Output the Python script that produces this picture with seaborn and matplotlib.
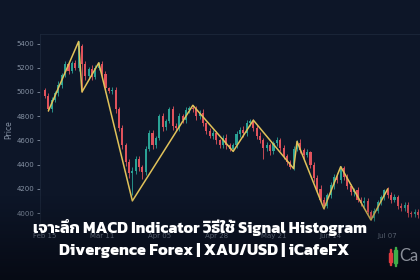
import matplotlib
matplotlib.use("Agg")
import matplotlib.pyplot as plt
import numpy as np
import pandas as pd
import seaborn as sns

# ---------------- data ----------------
first_open = 5020
closes = [
    4970, 4860, 4930, 4990, 5060, 5140, 5230, 5170, 5240, 5200,
    5380, 5230, 5130, 5190, 5120, 5200, 5230, 5150, 5030, 5010,
    5020, 4860, 4700, 4560, 4420, 4330, 4350, 4450, 4380, 4340,
    4530, 4660, 4560, 4620, 4800, 4710, 4760, 4860, 4720, 4700,
    4800, 4770, 4850, 4870, 4860, 4800, 4830, 4740, 4680, 4640,
    4660, 4600, 4560, 4620, 4560, 4530, 4560, 4650, 4690, 4660,
    4740, 4760, 4700, 4640, 4600, 4540, 4560, 4510, 4580, 4600,
    4540, 4470, 4420, 4380, 4530, 4580, 4520, 4480, 4500, 4400,
    4290, 4200, 4110, 4060, 4150, 4230, 4300, 4270, 4370, 4300,
    4220, 4170, 4190, 4110, 4080, 4100, 4010, 3960, 4020, 4090,
    4130, 4190, 4150, 4110, 4130, 4060, 4040, 4070, 4000, 3990,
    4010, 3980,
]
upper_wick = [
    15, 20, 25, 15, 30, 20, 25, 15, 20, 25,
    40, 20, 25, 15, 30, 20, 15, 25, 20, 15,
    20, 25, 15, 30, 20, 25, 30, 20, 25, 15,
    20, 25, 30, 20, 15, 25, 20, 15, 25, 20,
    30, 20, 25, 15, 20, 25, 20, 30, 15, 20,
    25, 20, 15, 25, 30, 20, 15, 25, 20, 30,
    25, 15, 20, 25, 30, 20, 25, 20, 15, 25,
    20, 25, 15, 20, 25, 20, 30, 20, 25, 15,
    20, 25, 30, 20, 15, 25, 20, 30, 15, 20,
    25, 20, 15, 25, 20, 30, 20, 15, 25, 20,
    15, 10, 25, 20, 30, 15, 20, 25, 20, 15,
    25, 20,
]
lower_wick = [
    20, 20, 25, 15, 20, 30, 20, 25, 15, 20,
    25, 230, 30, 20, 25, 15, 20, 25, 30, 20,
    25, 30, 25, 35, 30, 40, 180, 25, 30, 60,
    25, 20, 30, 25, 20, 30, 25, 20, 30, 25,
    20, 30, 25, 20, 25, 30, 20, 25, 30, 20,
    25, 30, 20, 25, 30, 20, 15, 25, 20, 30,
    25, 20, 25, 30, 20, 90, 25, 30, 20, 25,
    30, 25, 20, 15, 25, 20, 25, 30, 20, 25,
    30, 25, 30, 30, 20, 25, 30, 20, 25, 30,
    20, 25, 30, 20, 25, 30, 20, 15, 25, 20,
    25, 20, 30, 25, 20, 30, 25, 20, 30, 25,
    20, 25,
]
zz_bars = [1, 10, 11, 16, 26, 44, 56, 62, 74, 75, 83, 88, 97, 102]
zz_prices = [4843, 5417, 5000, 5241, 4100, 4890, 4509, 4767, 4367, 4592,
             4035, 4383, 3942, 4200]
xtick_bars = [0, 17, 34, 51, 68, 85, 102]
xtick_labels = ["Feb 15", "Mar 11", "Apr 05", "Apr 28", "May 21", "Jun 14", "Jul 07"]
yticks = [4000, 4200, 4400, 4600, 4800, 5000, 5200, 5400]
title1 = "เจาะลึก MACD Indicator วิธีใช้ Signal Histogram"
title2 = "Divergence Forex | XAU/USD | iCafeFX"

# ---------------- build frame ----------------
opens = [first_open] + closes[:-1]
df = pd.DataFrame({"bar": np.arange(len(closes)), "open": opens, "close": closes})
df["high"] = df[["open", "close"]].max(axis=1) + np.array(upper_wick)
df["low"] = df[["open", "close"]].min(axis=1) - np.array(lower_wick)
df["up"] = df["close"] >= df["open"]
zz = pd.DataFrame({"bar": zz_bars, "price": zz_prices})

BG = "#0d1628"
UP = "#2aa396"
DN = "#e0525c"
TXT = "#8591a3"

sns.set_theme(style="dark", rc={
    "axes.facecolor": BG, "figure.facecolor": BG,
    "axes.edgecolor": "#1e2a3f", "text.color": TXT,
    "xtick.color": TXT, "ytick.color": TXT,
    "axes.labelcolor": TXT,
})
plt.rcParams["font.family"] = ["DejaVu Sans"]

fig = plt.figure(figsize=(4.2, 2.8), dpi=100)
ax = fig.add_axes([40 / 420, 1 - 225 / 280, 380 / 420, (225 - 34) / 280])
ax.set_facecolor(BG)

x = df["bar"].to_numpy()
colors = np.where(df["up"], UP, DN)
ax.vlines(x, df["low"], df["high"], colors=colors, linewidth=0.6, zorder=2)
body_bottom = df[["open", "close"]].min(axis=1)
body_h = (df["close"] - df["open"]).abs().clip(lower=5)
ax.bar(x, body_h, bottom=body_bottom, width=0.62, color=colors, linewidth=0, zorder=3)

sns.lineplot(data=zz, x="bar", y="price", ax=ax, color="#e0c25a", linewidth=1.1,
             zorder=4, legend=False)

ax.set_ylim(3901, 5479)
ax.set_xlim(-1.49, 111.6)
ax.set_yticks(yticks)
ax.set_yticklabels([str(v) for v in yticks], fontsize=5)
ax.set_xticks(xtick_bars)
ax.set_xticklabels(xtick_labels, fontsize=5)
ax.tick_params(axis="y", length=2.5, width=0.6, pad=1.5, left=True, color=TXT)
ax.tick_params(axis="x", length=0, pad=6)
ax.set_xlabel("")
ax.set_ylabel("Price", fontsize=5.5)
ax.yaxis.set_label_coords(-27 / 380, 0.5)
ax.grid(False)
for s in ["right", "bottom"]:
    ax.spines[s].set_visible(False)
for s in ["left", "top"]:
    ax.spines[s].set_color("#1c273a")
    ax.spines[s].set_linewidth(0.6)

# bottom darkening gradient
ov = fig.add_axes([0, 0, 1, 1], zorder=5)
ov.set_axis_off()
ov.set_xlim(0, 1)
ov.set_ylim(0, 1)
grad = np.linspace(0, 1, 256).reshape(-1, 1)
alpha = np.clip((0.30 - grad) / 0.30, 0, 1) * 0.8
rgba = np.zeros((256, 1, 4))
rgba[..., 0] = 0.02
rgba[..., 1] = 0.03
rgba[..., 2] = 0.06
rgba[..., 3] = alpha
ov.imshow(rgba, extent=[0, 1, 0, 1], origin="lower", aspect="auto")

tfont = ["Kanit", "DejaVu Sans"]
ov.text(200 / 420, 1 - 228 / 280, title1, ha="center", va="center", fontsize=11.5,
        color="white", fontweight="bold", family=tfont)
ov.text(204 / 420, 1 - 250 / 280, title2, ha="center", va="center", fontsize=11.7,
        color="white", fontweight="bold", family=tfont)

# logo fragment bottom-right
ov.add_patch(plt.Rectangle((389 / 420, 1 - 262 / 280), 3 / 420, 9 / 280, color="#e03a3e"))
ov.add_patch(plt.Rectangle((390.2 / 420, 1 - 265 / 280), 0.6 / 420, 16 / 280, color="#e03a3e"))
ov.add_patch(plt.Rectangle((394 / 420, 1 - 263 / 280), 3 / 420, 13 / 280, color="#3fae49"))
ov.add_patch(plt.Rectangle((395.2 / 420, 1 - 266 / 280), 0.6 / 420, 19 / 280, color="#3fae49"))
ov.text(399 / 420, 1 - 256 / 280, "Ca", ha="left", va="center", fontsize=12,
        color="#8a8f99", family=["Lato", "DejaVu Sans"])

fig.savefig("out.png", dpi=100, facecolor=BG)
